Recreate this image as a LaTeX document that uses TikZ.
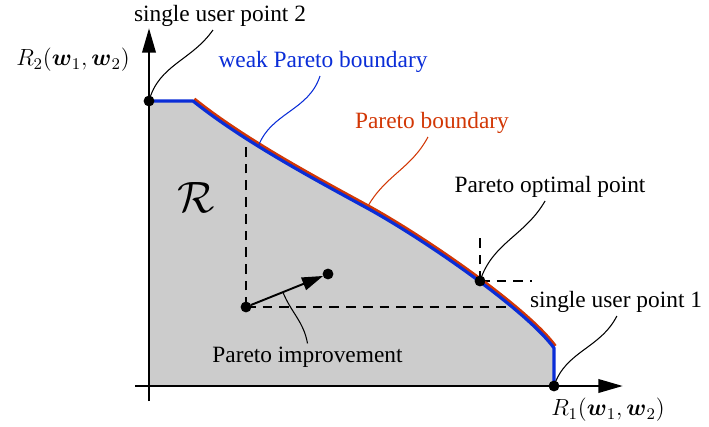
\RequirePackage{fix-cm}
\documentclass[tikz,border=0pt]{standalone}
\usepackage{amsmath}
\usepackage[no-math]{fontspec}
\setmainfont{Liberation Serif}
\usetikzlibrary{positioning,arrows.meta,calc}
\definecolor{regfill}{RGB}{204,204,204}
\definecolor{weakblue}{RGB}{10,45,215}
\definecolor{parred}{RGB}{210,55,5}

\begin{document}
\begin{tikzpicture}[x=0.02cm,y=0.02cm,
  lbl/.style={inner sep=2pt,font=\fontsize{13.3}{16}\selectfont},
  dot/.style={circle,fill=black,inner sep=0pt,minimum size=6.2pt},
  pointer/.style={line width=0.6pt},
  guide/.style={dash pattern=on 5.5pt off 4pt,line width=0.7pt},
  axis/.style={line width=1.7pt,-{Triangle[length=14pt,width=7.5pt]}}]
\useasboundingbox (0,0) rectangle (709,426);
% Points of interest
\coordinate (su2) at (149,325);
\coordinate (su1) at (554,40);
\coordinate (popt) at (480,145);
\coordinate (pa) at (246,119);
\coordinate (pb) at (328,152);
\coordinate (wk) at (258,279);
\coordinate (pr) at (368,220);
% Achievable region
\fill[regfill] (149,40) -- (su2) -- (193,325) .. controls (243,285) and (312,248) .. (367,218)
  .. controls (427,185) and (527,115) .. (554,78) -- (su1) -- cycle;
% Dominance guides
\draw[guide] (pa) -- (246,287);
\draw[guide] (pa) -- (516,119);
\draw[guide] (popt) -- (480,193);
\draw[guide] (popt) -- (532,145);
% Pareto boundary and weak Pareto boundary
\draw[parred,line width=1.8pt,shift={(1.3,2)}] (193,325) .. controls (243,285) and (312,248) .. (367,218)
  .. controls (427,185) and (527,115) .. (554,78);
\draw[weakblue,line width=1.8pt,line join=round] (su2) -- (193,325) .. controls (243,285) and (312,248) .. (367,218)
  .. controls (427,185) and (527,115) .. (554,78) -- (su1);
% Axes
\draw[axis] (135,40) -- (623,40);
\draw[axis] (149,25) -- (149,398);
% Improvement
\draw[line width=1.1pt,-{Triangle[length=12pt,width=7.5pt]},shorten <=3pt,shorten >=3pt] (pa) -- (pb);
\path (pa) -- (pb) coordinate[pos=0.45] (impr);
\foreach \p in {su2,su1,popt,pa,pb}
  \node[dot] at (\p) {};
% Labels
\node[lbl] (sup2lbl) at (220,410.5) {single user point 2};
\node[lbl] (r2lbl) at (73,366) {$R_2(\boldsymbol{w}_1,\boldsymbol{w}_2)$};
\node[lbl,text=weakblue] (weaklbl) at (323,364.5) {weak Pareto boundary};
\node[lbl,text=parred] (parlbl) at (432,303.5) {Pareto boundary};
\node[lbl] (optlbl) at (550,239.5) {Pareto optimal point};
\node[lbl] (sup1lbl) at (616,124.5) {single user point 1};
\node[lbl] (imprlbl) at (307.5,68.5) {Pareto improvement};
\node[lbl] (r1lbl) at (608,16) {$R_1(\boldsymbol{w}_1,\boldsymbol{w}_2)$};
\node[font=\fontsize{25}{30}\selectfont] (regname) at (196,229) {$\mathcal{R}$};
% Pointers
\draw[pointer] ([xshift=-4pt]sup2lbl.south) to[out=-125,in=75] (su2);
\draw[pointer,weakblue] ([xshift=-1.7pt]weaklbl.south) to[out=-108,in=70] (wk);
\draw[pointer,parred] ([xshift=-2.3pt]parlbl.south) to[out=-118,in=60] (pr);
\draw[pointer] ([xshift=-2.8pt]optlbl.south) to[out=-120,in=72] (popt);
\draw[pointer] ([xshift=0.5pt]sup1lbl.south) to[out=-117,in=72] (su1);
\draw[pointer] (imprlbl.north) to[out=100,in=-68] (impr);
\end{tikzpicture}
\end{document}
